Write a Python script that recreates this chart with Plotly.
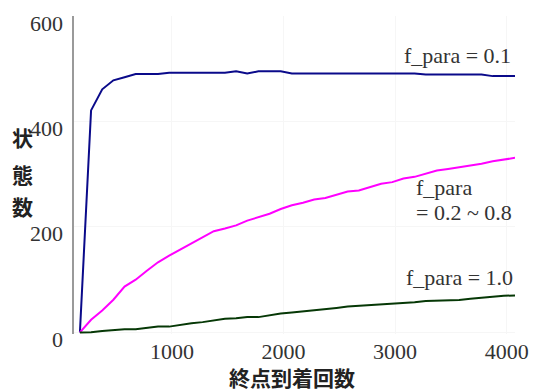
import plotly.graph_objects as go

# ---- data ----
arrivals = [175 + 100 * k for k in range(40)]  # 終点到着回数 (x)

states_f01 = [0, 421, 461, 478, 484, 490, 490, 490, 492.5, 492.5,
              492.5, 492.5, 492.5, 492.5, 495, 491, 495, 495, 495, 491,
              491, 491, 491, 491, 491, 491, 491, 491, 491, 491,
              491, 489, 489, 489, 489, 489, 489, 486, 486, 486]

states_f02_08 = [0, 24, 41.5, 62, 87, 100, 117, 133, 145.5, 157,
                 168, 179, 192, 197, 203, 212, 218, 225, 234, 241,
                 246, 252, 255, 261, 267, 269, 276, 282, 285, 292,
                 295, 301, 307, 310, 313, 316, 320, 324.5, 328, 331]

states_f10 = [0, 0.5, 2.5, 4, 6, 6, 8.5, 11, 11, 14.5,
              17.5, 19.5, 22.5, 25.7, 27, 29, 29, 33, 36, 38,
              40, 42.7, 43.5, 46.5, 49, 50.3, 52, 53.5, 55.4, 55.4,
              57.2, 59.5, 60.5, 60.5, 61.5, 64, 66.5, 67.8, 69.5, 70]

x_ticks = [1000, 2000, 3000, 4000]
y_ticks = [0, 200, 400, 600]
x_title = "終点到着回数"
y_title_chars = ["状", "態", "数"]

SERIF = "Liberation Serif"
CJK = "Noto Sans CJK JP"
TXT = "#333333"

fig = go.Figure()
fig.add_trace(go.Scatter(x=arrivals, y=states_f01, mode="lines",
                         line=dict(color="#0a0a8a", width=2), showlegend=False))
fig.add_trace(go.Scatter(x=arrivals, y=states_f02_08, mode="lines",
                         line=dict(color="#ff00ff", width=2), showlegend=False))
fig.add_trace(go.Scatter(x=arrivals, y=states_f10, mode="lines",
                         line=dict(color="#063806", width=2), showlegend=False))

annotations = []
# y tick labels (shifted slightly below their ticks as in the reference)
for v in y_ticks:
    annotations.append(dict(x=0, xref="paper", y=v, yref="y", text=str(v),
                            xanchor="right", yanchor="middle", xshift=-9, yshift=-7,
                            showarrow=False, font=dict(family=SERIF, size=22, color=TXT)))
# y title stacked characters
for ch, py in zip(y_title_chars, [0.618, 0.503, 0.402]):
    annotations.append(dict(x=-0.117, xref="paper", y=py, yref="paper", text=ch,
                            xanchor="center", yanchor="middle", showarrow=False,
                            font=dict(family=CJK, size=21, color="#222222", weight="bold")))
# x title
annotations.append(dict(x=0.495, xref="paper", y=-0.135, yref="paper", text=x_title,
                        xanchor="center", yanchor="middle", showarrow=False,
                        font=dict(family=CJK, size=21, color="#222222", weight="bold")))
# series labels
annotations.append(dict(x=0.9955, xref="paper", y=0.877, yref="paper", text="f_para = 0.1",
                        xanchor="right", yanchor="middle", showarrow=False,
                        font=dict(family=SERIF, size=22, color=TXT)))
annotations.append(dict(x=0.770, xref="paper", y=0.460, yref="paper", text="f_para",
                        xanchor="left", yanchor="middle", showarrow=False,
                        font=dict(family=SERIF, size=22, color=TXT)))
annotations.append(dict(x=0.770, xref="paper", y=0.381, yref="paper", text="= 0.2 ~ 0.8",
                        xanchor="left", yanchor="middle", showarrow=False,
                        font=dict(family=SERIF, size=22, color=TXT)))
annotations.append(dict(x=1.0, xref="paper", y=0.179, yref="paper", text="f_para = 1.0",
                        xanchor="right", yanchor="middle", showarrow=False,
                        font=dict(family=SERIF, size=22, color=TXT)))

# page body has an 8px default margin, so the figure is drawn 8px smaller
fig.update_layout(
    width=529, height=381,
    margin=dict(l=66, r=19, t=8, b=55),
    paper_bgcolor="white", plot_bgcolor="white",
    annotations=annotations,
    xaxis=dict(range=[122, 4075], tickvals=x_ticks, ticktext=[str(v) for v in x_ticks],
               showline=False, zeroline=False, showgrid=True, gridcolor="#f6f6f6",
               ticks="", ticklabelstandoff=2,
               tickfont=dict(family=SERIF, size=22, color=TXT)),
    yaxis=dict(range=[-3, 600], tickvals=y_ticks, showticklabels=False,
               showline=True, linecolor="#9a9a9a", linewidth=2,
               zeroline=False, showgrid=True, gridcolor="#f6f6f6", ticks=""),
)

fig.write_html("out.html")
